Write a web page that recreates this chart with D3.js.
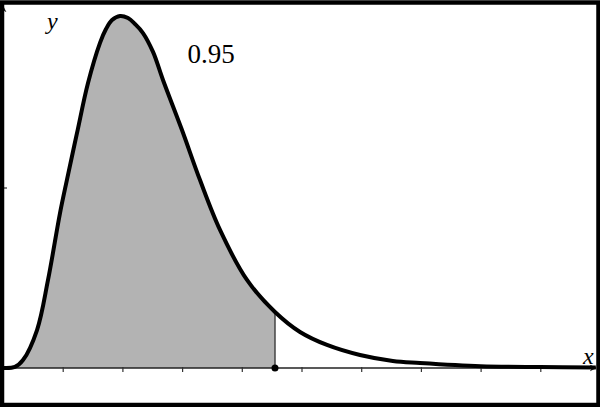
<!DOCTYPE html>
<html>
<head>
<meta charset="utf-8">
<script src="https://cdn.jsdelivr.net/npm/d3@7"></script>
<style>
  html, body { margin: 0; padding: 0; background: #fff; }
  svg { display: block; }
</style>
</head>
<body>
<svg id="chart" width="600" height="407"></svg>
<script>
// ---- data ----
const curveX = [0, 0.20, 0.335, 0.57, 0.754, 0.955, 1.07, 1.24, 1.424, 1.625, 1.725, 1.826, 1.96, 2.094, 2.211, 2.345, 2.513, 2.68, 2.998, 3.30, 3.635, 4.087, 4.556, 4.975, 5.427, 5.98, 6.53, 6.985, 8.0, 9.0, 9.93];
const curveY = [0, 0.0006, 0.0044, 0.0211, 0.0489, 0.0861, 0.1044, 0.1306, 0.1583, 0.1806, 0.1883, 0.1933, 0.1956, 0.1944, 0.1911, 0.1861, 0.1756, 0.16, 0.1322, 0.1044, 0.0767, 0.0489, 0.0311, 0.02, 0.0128, 0.0072, 0.0039, 0.0028, 0.001, 0.0005, 0.0003];
const xTicks = [1, 2, 3, 4, 5, 6, 7, 8, 9];
const criticalX = 4.556;
const areaLabel = "0.95";
const xLabel = "x";
const yLabel = "y";

const W = 600, H = 407;
const SERIF = '"Liberation Serif"';
const svg = d3.select("#chart");

const x = d3.scaleLinear().domain([0, 10]).range([3, 600]);
const y = d3.scaleLinear().domain([0, 0.2]).range([368, 8]);

const pts = curveX.map((v, i) => ({ x: v, y: curveY[i] }));

function valueAt(xv) {
  for (let i = 0; i < pts.length - 1; i++) {
    if (xv >= pts[i].x && xv <= pts[i + 1].x) {
      const t = (xv - pts[i].x) / (pts[i + 1].x - pts[i].x);
      return pts[i].y + t * (pts[i + 1].y - pts[i].y);
    }
  }
  return 0;
}
const shaded = pts.filter(d => d.x < criticalX).concat([{ x: criticalX, y: valueAt(criticalX) }]);
const smooth = d3.curveCatmullRom.alpha(0.5);

const defs = svg.append("defs");
defs.append("marker")
  .attr("id", "arrow")
  .attr("viewBox", "0 0 10 10")
  .attr("refX", 9).attr("refY", 5)
  .attr("markerWidth", 7).attr("markerHeight", 7)
  .attr("markerUnits", "userSpaceOnUse")
  .attr("orient", "auto")
  .append("path").attr("d", "M0,0 L10,5 L0,10 L3,5 Z").attr("fill", "#222");

// shaded area
svg.append("path")
  .datum(shaded)
  .attr("fill", "#b3b3b3")
  .attr("d", d3.area().x(d => x(d.x)).y0(y(0)).y1(d => y(d.y)).curve(smooth));

// vertical boundary line
svg.append("line")
  .attr("x1", x(criticalX)).attr("x2", x(criticalX))
  .attr("y1", y(0)).attr("y2", y(valueAt(criticalX)))
  .attr("stroke", "#444").attr("stroke-width", 1.5);

// x axis line with arrow
svg.append("line")
  .attr("x1", x(0)).attr("x2", 596)
  .attr("y1", y(0)).attr("y2", y(0))
  .attr("stroke", "#222").attr("stroke-width", 1.5)
  .attr("marker-end", "url(#arrow)");

// y axis line with arrow
svg.append("line")
  .attr("x1", x(0)).attr("x2", x(0))
  .attr("y1", H).attr("y2", 6)
  .attr("stroke", "#000").attr("stroke-width", 2)
  .attr("marker-end", "url(#arrow)");

// ticks via d3 axis
const xAxis = d3.axisBottom(x).tickValues(xTicks).tickSize(5).tickFormat("");
const gx = svg.append("g").attr("transform", `translate(0,${y(0) - 1})`).call(xAxis);
gx.select(".domain").remove();
gx.selectAll(".tick line").attr("stroke", "#333").attr("stroke-width", 1.2);

// y tick
svg.append("line")
  .attr("x1", x(0)).attr("x2", x(0) + 4)
  .attr("y1", y(0.1)).attr("y2", y(0.1))
  .attr("stroke", "#333").attr("stroke-width", 1.2);

// curve
svg.append("path")
  .datum(pts)
  .attr("fill", "none")
  .attr("stroke", "#000")
  .attr("stroke-width", 4)
  .attr("stroke-linejoin", "round")
  .attr("d", d3.line().x(d => x(d.x)).y(d => y(d.y)).curve(smooth));

// critical point dot
svg.append("circle")
  .attr("cx", x(criticalX)).attr("cy", y(0)).attr("r", 3.5)
  .attr("fill", "#000");

// labels
svg.append("text")
  .attr("x", 211).attr("y", 63)
  .attr("text-anchor", "middle")
  .style("font-family", SERIF)
  .style("font-size", "27px")
  .attr("fill", "#000")
  .text(areaLabel);

svg.append("text")
  .attr("x", 47).attr("y", 29)
  .style("font-family", SERIF)
  .style("font-style", "italic")
  .style("font-size", "24px")
  .attr("fill", "#000")
  .text(yLabel);

svg.append("text")
  .attr("x", 583).attr("y", 364)
  .style("font-family", SERIF)
  .style("font-style", "italic")
  .style("font-size", "24px")
  .attr("fill", "#000")
  .text(xLabel);

// frame
svg.append("rect")
  .attr("x", 2).attr("y", 2.5)
  .attr("width", W - 3.5).attr("height", H - 4.5)
  .attr("fill", "none")
  .attr("stroke", "#000")
  .attr("stroke-width", 4.5);
</script>
</body>
</html>
